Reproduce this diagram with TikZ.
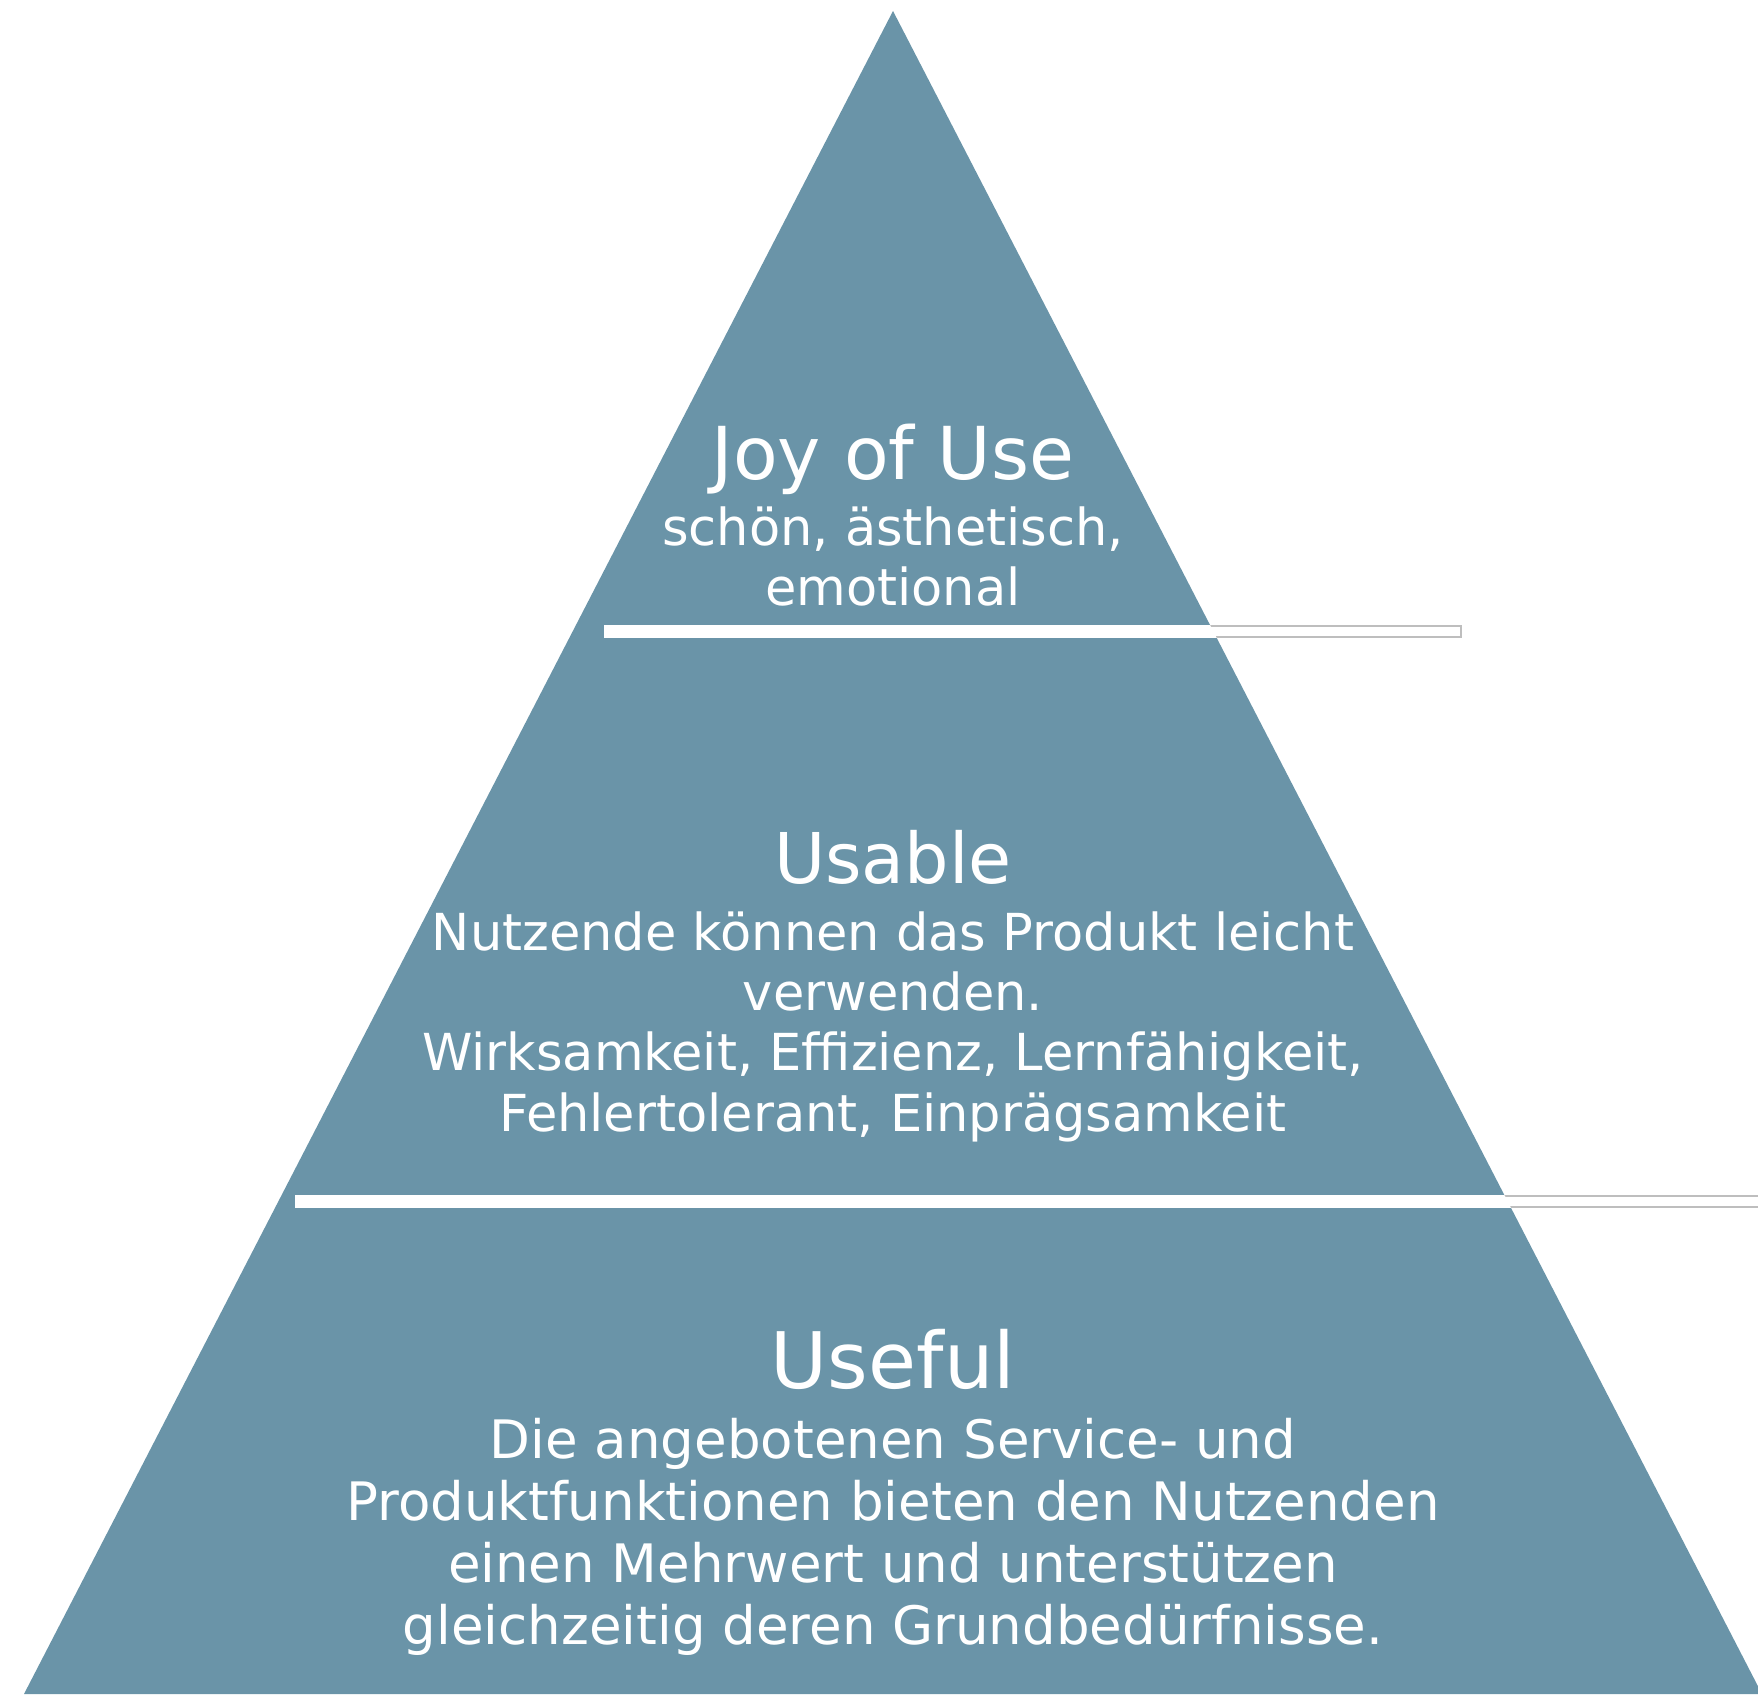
\documentclass[tikz,border=0pt]{standalone}
\usepackage{fontspec}
\setmainfont{DejaVu Sans}
\definecolor{pyr}{RGB}{106,148,168}
\definecolor{barline}{RGB}{190,190,190}
\tikzset{
  level/.style={fill=pyr, draw=none},
  bar/.style={fill=white, draw=barline, line width=1.2pt},
  title/.style={text=white, anchor=base, inner sep=0pt},
  desc/.style={text=white, anchor=base, inner sep=0pt, align=center},
}
\begin{document}
\begin{tikzpicture}[x=1pt,y=-1pt]
\useasboundingbox (0,0) rectangle (1758,1694);
\fill[white] (0,0) rectangle (1758,1694);
\coordinate (apex) at (893,11);
\coordinate (bl) at (24,1694);
\coordinate (br) at (1762,1694);
\path[level] (apex) -- (bl) -- (br) -- cycle;
\path[bar] (605,626) rectangle (1461,637);
\path[bar] (296,1196) rectangle (1770,1207);
\begin{scope}
  \clip (apex) -- (bl) -- (br) -- cycle;
  \fill[white] (604.4,625.4) rectangle (1461.6,637.6);
  \fill[white] (295.4,1195.4) rectangle (1770.6,1207.6);
\end{scope}
\node[title, font=\fontsize{73}{86}\selectfont] (joy) at (893,479) {Joy of Use};
\node[desc, font=\fontsize{51}{60}\selectfont] (joyd) at (893,605) {schön, ästhetisch,\\emotional};
\node[title, font=\fontsize{70}{84}\selectfont] (usable) at (893,883) {Usable};
\node[desc, font=\fontsize{51}{60.3}\selectfont] (usabled) at (893,1131) {Nutzende können das Produkt leicht\\verwenden.\\Wirksamkeit, Effizienz, Lernfähigkeit,\\Fehlertolerant, Einprägsamkeit};
\node[title, font=\fontsize{78}{92}\selectfont] (useful) at (893,1388) {Useful};
\node[desc, font=\fontsize{53}{62}\selectfont] (usefuld) at (893,1644) {Die angebotenen Service- und\\Produktfunktionen bieten den Nutzenden\\einen Mehrwert und unterstützen\\gleichzeitig deren Grundbedürfnisse.};
\end{tikzpicture}
\end{document}
